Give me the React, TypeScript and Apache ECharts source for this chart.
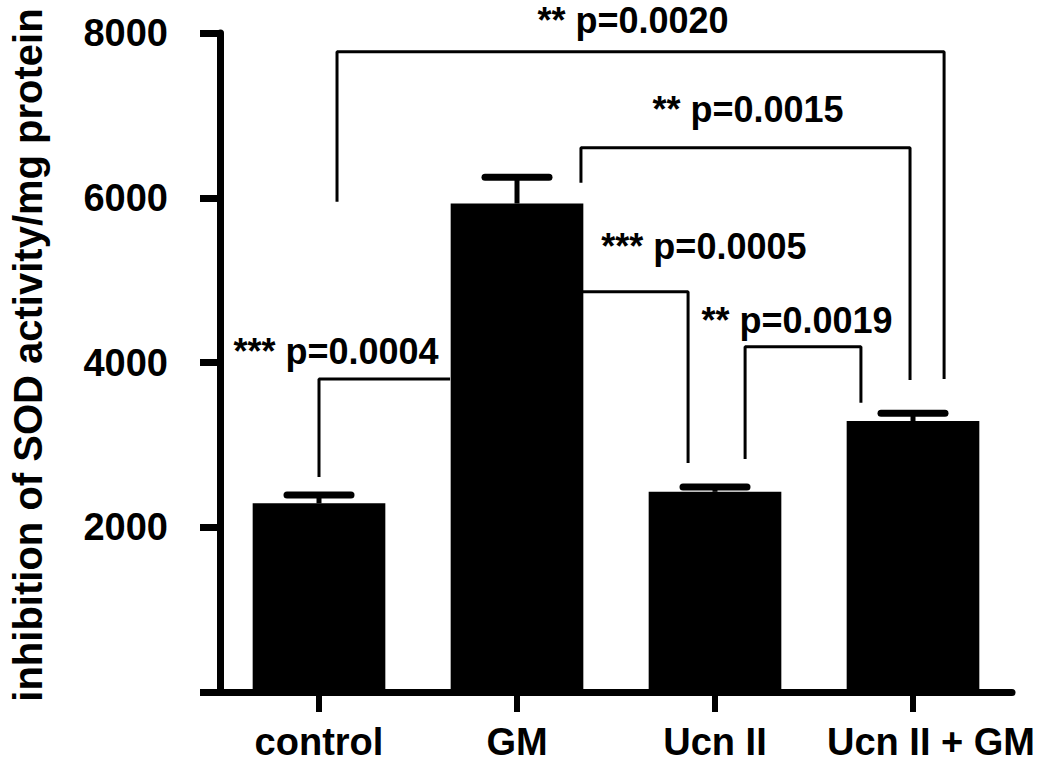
import React, { useEffect, useRef } from "react";
import * as echarts from "echarts";

const categories = ["control", "GM", "Ucn II", "Ucn II + GM"];
const means = [2290, 5930, 2430, 3290];
const errors = [100, 320, 60, 95];
const yMin = 0;
const yMax = 8000;
const yInterval = 2000;

// brackets in (category-position, value) coordinates
const bracketA = [[0.591, 5951], [0.591, 7773], [3.657, 7773], [3.657, 3801]];
const bracketB = [[1.823, 6182], [1.823, 6607], [3.485, 6607], [3.485, 3789]];
const bracketC = [[1.833, 4858], [2.364, 4858], [2.364, 2781]];
const bracketD = [[2.652, 2830], [2.652, 4190], [3.237, 4190], [3.237, 3510]];
const bracketE = [[0.5, 2611], [0.5, 3801], [1.162, 3801]];

const annotationTexts = ["** p=0.0020", "** p=0.0015", "*** p=0.0005", "** p=0.0019", "*** p=0.0004"];
const annotationX = [2.086, 2.667, 2.444, 2.914, 0.586];
const annotationY = [8149, 7068, 5404, 4506, 4129];

const yTitle = "inhibition of SOD activity/mg protein";

const FONT = '"Liberation Sans", Arial, Helvetica, sans-serif';

export default function App() {
  const ref = useRef<HTMLDivElement>(null);
  useEffect(() => {
    document.body.style.margin = "0";
    const chart = echarts.init(ref.current!, null, { renderer: "svg" });
    const brackets = [bracketA, bracketB, bracketC, bracketD, bracketE];
    const option: any = {
      animation: false,
      backgroundColor: "#fff",
      grid: { left: 220, right: 38, top: 33, bottom: 82, containLabel: false },
      xAxis: [
        {
          type: "category",
          data: categories,
          boundaryGap: true,
          axisLine: { show: true, lineStyle: { color: "#000", width: 7 } },
          axisTick: { show: true, alignWithLabel: true, length: 20, lineStyle: { color: "#000", width: 6 } },
          axisLabel: {
            interval: 0,
            hideOverlap: false,
            color: "#000",
            fontFamily: FONT,
            fontWeight: "bold",
            fontSize: 38,
            margin: 31,
            formatter: (v: string, i: number) => (i === categories.length - 1 ? "{s|" + v + "}" : v),
            rich: { s: { padding: [0, 0, 0, 36], fontFamily: FONT, fontWeight: "bold", fontSize: 38, color: "#000" } },
          },
          splitLine: { show: false },
        },
        { type: "value", min: 0, max: 4, show: false },
      ],
      yAxis: {
        type: "value",
        min: yMin,
        max: yMax,
        interval: yInterval,
        axisLine: { show: true, lineStyle: { color: "#000", width: 7 } },
        axisTick: { show: true, length: 20, lineStyle: { color: "#000", width: 7 } },
        axisLabel: {
          color: "#000",
          fontFamily: FONT,
          fontWeight: "bold",
          fontSize: 38,
          margin: 52,
          formatter: (v: number) => (v === 0 ? "" : String(v)),
        },
        splitLine: { show: false },
      },
      graphic: [
        {
          type: "text",
          x: 28,
          y: 355,
          rotation: Math.PI / 2,
          style: {
            text: yTitle,
            fontFamily: FONT,
            fontWeight: "bold",
            fontSize: 40,
            fill: "#000",
            align: "center",
            verticalAlign: "middle",
          },
        },
      ],
      series: [
        {
          type: "bar",
          data: means,
          barWidth: "67%",
          itemStyle: { color: "#000" },
          silent: true,
        },
        {
          type: "custom",
          data: means.map((m, i) => [i, m, errors[i]]),
          renderItem: (params: any, api: any) => {
            const i = api.value(0);
            const m = api.value(1);
            const e = api.value(2);
            const base = api.coord([i, m]);
            const top = api.coord([i, m + e]);
            return {
              type: "group",
              children: [
                { type: "line", shape: { x1: base[0], y1: base[1], x2: top[0], y2: top[1] }, style: { stroke: "#000", lineWidth: 5 } },
                { type: "line", shape: { x1: top[0] - 32, y1: top[1], x2: top[0] + 32, y2: top[1] }, style: { stroke: "#000", lineWidth: 7, lineCap: "round" } },
              ],
            };
          },
          z: 3,
          silent: true,
        },
        ...brackets.map((b) => ({
          type: "line",
          xAxisIndex: 1,
          data: b,
          symbol: "none",
          clip: false,
          lineStyle: { color: "#000", width: 3 },
          z: 4,
          silent: true,
        })),
        {
          type: "custom",
          xAxisIndex: 1,
          clip: false,
          silent: true,
          data: annotationTexts.map((t, i) => [annotationX[i], annotationY[i], i]),
          renderItem: (params: any, api: any) => {
            const p = api.coord([api.value(0), api.value(1)]);
            const idx = api.value(2);
            return {
              type: "text",
              x: p[0],
              y: p[1],
              style: {
                text: annotationTexts[idx],
                fill: "#000",
                fontFamily: FONT,
                fontWeight: "bold",
                fontSize: 36,
                align: "center",
                verticalAlign: "middle",
              },
            };
          },
          z: 5,
        },
      ],
    };
    chart.setOption(option);
    return () => chart.dispose();
  }, []);
  return <div ref={ref} style={{ width: 1050, height: 774 }} />;
}
